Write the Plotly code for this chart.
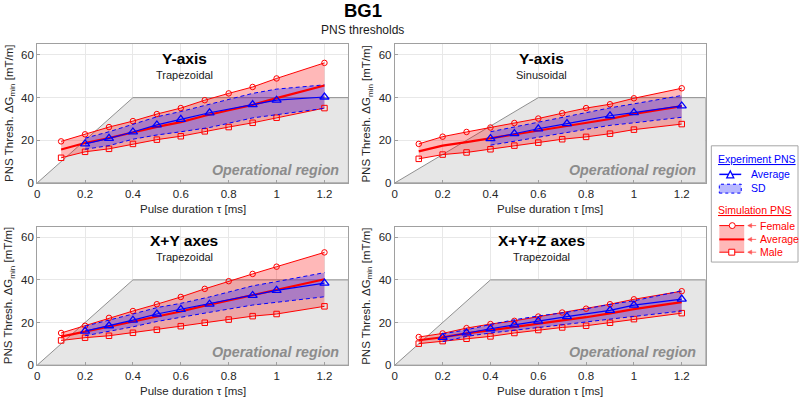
import plotly.graph_objects as go

# ---------------- data ----------------
x_sim = [0.1, 0.2, 0.3, 0.4, 0.5, 0.6, 0.7, 0.8, 0.9, 1.0, 1.2]
x_exp = [0.2, 0.3, 0.4, 0.5, 0.6, 0.72, 0.9, 1.0, 1.2]
x_exp_sin = [0.4, 0.5, 0.6, 0.72, 0.9, 1.0, 1.2]

# Panel 1: Y-axis, Trapezoidal
f1 = [19.5, 22.8, 26.2, 29.0, 32.3, 35.1, 38.8, 42.0, 45.0, 49.0, 56.3]
m1 = [11.8, 14.6, 16.0, 18.3, 20.3, 21.9, 24.2, 26.2, 28.2, 30.6, 35.1]
a1 = [15.7, 18.7, 21.1, 23.7, 26.3, 28.5, 31.5, 34.1, 36.6, 39.8, 45.7]
e1 = [18.3, 20.9, 23.9, 27.2, 29.8, 32.9, 36.7, 38.8, 40.3]
u1 = [21.0, 24.0, 27.5, 31.0, 33.5, 37.0, 42.0, 44.0, 46.0]
l1 = [15.8, 17.5, 20.5, 22.5, 24.0, 26.0, 30.5, 32.0, 35.0]

# Panel 2: Y-axis, Sinusoidal
f2 = [18.3, 21.7, 23.9, 26.0, 28.1, 30.2, 32.7, 35.1, 36.9, 39.7, 44.4]
m2 = [11.3, 13.3, 14.3, 15.8, 17.5, 18.9, 20.5, 21.6, 23.1, 25.0, 27.6]
a2 = [14.8, 17.5, 19.1, 20.9, 22.8, 24.6, 26.6, 28.4, 30.0, 32.4, 36.0]
e2 = [20.8, 23.1, 25.4, 27.8, 31.5, 33.0, 36.1]
u2 = [24.0, 26.3, 28.5, 31.3, 35.2, 37.1, 41.0]
l2 = [17.7, 19.5, 21.3, 23.6, 27.0, 28.2, 30.8]

# Panel 3: X+Y axes, Trapezoidal
f3 = [15.1, 18.5, 22.2, 25.4, 28.6, 32.0, 35.8, 39.4, 42.8, 46.2, 52.9]
m3 = [11.6, 12.9, 13.8, 15.2, 16.6, 18.3, 19.9, 21.4, 23.0, 24.0, 27.6]
a3 = [13.4, 15.7, 18.0, 20.3, 22.6, 25.2, 27.9, 30.4, 32.9, 35.1, 40.3]
e3 = [16.0, 18.5, 21.1, 24.0, 26.2, 28.6, 32.7, 35.1, 38.5]
u3 = [18.3, 21.0, 24.0, 27.0, 29.0, 32.0, 37.2, 39.2, 43.4]
l3 = [13.8, 15.8, 18.0, 20.5, 22.3, 24.8, 28.2, 29.5, 32.1]

# Panel 4: X+Y+Z axes, Trapezoidal
f4 = [13.2, 14.9, 17.4, 19.3, 20.8, 22.8, 24.7, 26.5, 28.6, 30.9, 34.7]
m4 = [10.1, 11.3, 12.4, 13.5, 15.1, 16.5, 17.7, 18.5, 19.9, 21.6, 24.4]
a4 = [11.7, 13.1, 14.9, 16.4, 18.0, 19.7, 21.2, 22.5, 24.3, 26.3, 29.6]
e4 = [13.0, 15.2, 17.1, 18.9, 20.7, 22.8, 25.7, 28.2, 31.0]
u4 = [14.7, 16.6, 19.1, 21.3, 23.1, 24.8, 28.5, 30.2, 34.9]
l4 = [11.0, 13.5, 15.1, 16.3, 17.7, 19.2, 21.6, 22.8, 25.4]

# Operational region outlines
op_x_trap = [0, 0.4, 1.3, 1.3, 0]
op_x_sin = [0, 0.6, 1.3, 1.3, 0]
op_y = [0, 40, 40, 0, 0]

x_ticks = [0, 0.2, 0.4, 0.6, 0.8, 1, 1.2]
x_tick_text = ["0", "0.2", "0.4", "0.6", "0.8", "1", "1.2"]
y_ticks = [0, 20, 40, 60]

titles = ["Y-axis", "Y-axis", "X+Y axes", "X+Y+Z axes"]
subtitles = ["Trapezoidal", "Sinusoidal", "Trapezoidal", "Trapezoidal"]

panels = [
    (f1, m1, a1, x_exp, e1, u1, l1, op_x_trap),
    (f2, m2, a2, x_exp_sin, e2, u2, l2, op_x_sin),
    (f3, m3, a3, x_exp, e3, u3, l3, op_x_trap),
    (f4, m4, a4, x_exp, e4, u4, l4, op_x_trap),
]

# ---------------- layout geometry ----------------
W, H = 800, 404
FONT = "Liberation Sans, Arial, Helvetica, sans-serif"
RED = "#ff0000"
BLUE = "#0000ff"
RED_FILL = "rgba(255,0,0,0.28)"
BLUE_FILL = "rgba(40,40,255,0.33)"
GRAY_FILL = "#e6e6e6"

def PX(x):
    return x / W

def PY(y):
    return 1 - y / H

col_px = [(34.3, 346.7), (393.3, 705.3)]
row_px = [(45.0, 185.7), (230.0, 370.7)]

fig = go.Figure()
layout_axes = {}
annotations = []
shapes = []

for i, (f, m, a, xe, e, u, l, opx) in enumerate(panels):
    r, c = divmod(i, 2)
    n = i + 1
    xa = "x" if n == 1 else f"x{n}"
    ya = "y" if n == 1 else f"y{n}"
    xkey = "xaxis" if n == 1 else f"xaxis{n}"
    ykey = "yaxis" if n == 1 else f"yaxis{n}"
    x0, x1 = col_px[c]
    y0, y1 = row_px[r]

    # operational region
    fig.add_trace(go.Scatter(x=opx, y=op_y, xaxis=xa, yaxis=ya, mode="lines",
                             fill="toself", fillcolor=GRAY_FILL,
                             line=dict(color="#8f8f8f", width=1),
                             hoverinfo="skip", showlegend=False))
    # simulation band
    fig.add_trace(go.Scatter(x=x_sim + x_sim[::-1], y=f + m[::-1], xaxis=xa, yaxis=ya,
                             mode="lines", fill="toself", fillcolor=RED_FILL,
                             line=dict(width=0), hoverinfo="skip", showlegend=False))
    # experiment SD band
    fig.add_trace(go.Scatter(x=xe + xe[::-1], y=u + l[::-1], xaxis=xa, yaxis=ya,
                             mode="lines", fill="toself", fillcolor=BLUE_FILL,
                             line=dict(width=0), hoverinfo="skip", showlegend=False))
    # female / male
    fig.add_trace(go.Scatter(x=x_sim, y=f, xaxis=xa, yaxis=ya, mode="lines+markers",
                             line=dict(color=RED, width=1),
                             marker=dict(symbol="circle-open", size=5.5, color=RED,
                                         line=dict(width=1)),
                             showlegend=False))
    fig.add_trace(go.Scatter(x=x_sim, y=m, xaxis=xa, yaxis=ya, mode="lines+markers",
                             line=dict(color=RED, width=1),
                             marker=dict(symbol="square-open", size=5.5, color=RED,
                                         line=dict(width=1)),
                             showlegend=False))
    # SD dashed edges
    for arr in (u, l):
        fig.add_trace(go.Scatter(x=xe, y=arr, xaxis=xa, yaxis=ya, mode="lines",
                                 line=dict(color=BLUE, width=1, dash="4px,3px"),
                                 showlegend=False))
    # simulation average
    fig.add_trace(go.Scatter(x=x_sim, y=a, xaxis=xa, yaxis=ya, mode="lines",
                             line=dict(color=RED, width=2.2), showlegend=False))
    # experiment average
    fig.add_trace(go.Scatter(x=xe, y=e, xaxis=xa, yaxis=ya, mode="lines+markers",
                             line=dict(color=BLUE, width=1.2),
                             marker=dict(symbol="triangle-up-open", size=8, color=BLUE,
                                         line=dict(width=1.3)),
                             showlegend=False))

    layout_axes[xkey] = dict(domain=[PX(x0), PX(x1)], range=[0, 1.3], anchor=ya,
                             tickvals=x_ticks, ticktext=x_tick_text,
                             showgrid=True, gridcolor="#e8e8e8", gridwidth=1,
                             zeroline=False, showline=True, mirror=True,
                             linecolor="#a0a0a0", linewidth=1,
                             ticks="inside", ticklen=3, tickcolor="#a0a0a0",
                             tickfont=dict(size=11.5, color="#262626", family=FONT))
    layout_axes[ykey] = dict(domain=[PY(y1), PY(y0)], range=[0, 65], anchor=xa,
                             tickvals=y_ticks,
                             showgrid=True, gridcolor="#e8e8e8", gridwidth=1,
                             zeroline=False, showline=True, mirror=True,
                             linecolor="#a0a0a0", linewidth=1,
                             ticks="inside", ticklen=3, tickcolor="#a0a0a0",
                             tickfont=dict(size=11.5, color="#262626", family=FONT))

    # panel texts
    annotations.append(dict(xref=f"{xa} domain", yref=f"{ya} domain", x=0.473, y=0.9,
                            text=f"<b>{titles[i]}</b>", showarrow=False,
                            font=dict(size=15.5, color="#000000", family=FONT),
                            xanchor="center", yanchor="middle"))
    annotations.append(dict(xref=f"{xa} domain", yref=f"{ya} domain", x=0.473, y=0.78,
                            text=subtitles[i], showarrow=False,
                            font=dict(size=11, color="#1a1a1a", family=FONT),
                            xanchor="center", yanchor="middle"))
    annotations.append(dict(xref=f"{xa} domain", yref=f"{ya} domain", x=0.975, y=0.095,
                            text="<b><i>Operational region</i></b>", showarrow=False,
                            font=dict(size=14.3, color="#8c8c8c", family=FONT),
                            xanchor="right", yanchor="middle"))
    # axis titles
    annotations.append(dict(xref="paper", yref="paper", x=PX((x0 + x1) / 2), y=PY(y1 + 26),
                            text="Pulse duration \u03c4 [ms]", showarrow=False,
                            font=dict(size=11.5, color="#262626", family=FONT),
                            xanchor="center", yanchor="middle"))
    annotations.append(dict(xref="paper", yref="paper", x=PX(x0 - 28), y=PY((y0 + y1) / 2),
                            text="PNS Thresh. \u0394G<sub>min</sub> [mT/m]", showarrow=False,
                            textangle=-90,
                            font=dict(size=11.5, color="#262626", family=FONT),
                            xanchor="center", yanchor="middle"))

# figure titles
annotations.append(dict(xref="paper", yref="paper", x=PX(361), y=PY(11), text="<b>BG1</b>",
                        showarrow=False, font=dict(size=18.5, color="#000000", family=FONT),
                        xanchor="center", yanchor="middle"))
annotations.append(dict(xref="paper", yref="paper", x=PX(361), y=PY(30), text="PNS thresholds",
                        showarrow=False, font=dict(size=12, color="#1a1a1a", family=FONT),
                        xanchor="center", yanchor="middle"))

# ---------------- custom legend ----------------
def rect(xa0, ya0, xa1, ya1, **kw):
    d = dict(type="rect", xref="paper", yref="paper",
             x0=PX(xa0), x1=PX(xa1), y0=PY(ya1), y1=PY(ya0))
    d.update(kw)
    return d

def hline(xa0, xa1, yy, color, width, dash="solid"):
    return dict(type="line", xref="paper", yref="paper", x0=PX(xa0), x1=PX(xa1),
                y0=PY(yy), y1=PY(yy), line=dict(color=color, width=width, dash=dash))

def path(pts, color, width, fill):
    p = "M " + " L ".join("{},{}".format(PX(a), PY(b)) for a, b in pts) + " Z"
    return dict(type="path", xref="paper", yref="paper", path=p,
                line=dict(color=color, width=width), fillcolor=fill)

shapes.append(rect(711, 148, 798, 266, line=dict(color="#a6a6a6", width=1),
                   fillcolor="white", layer="below"))
LF = 10.5
def ltext(x, y, t, color):
    annotations.append(dict(xref="paper", yref="paper", x=PX(x), y=PY(y), text=t,
                            showarrow=False, font=dict(size=LF, color=color, family=FONT),
                            xanchor="left", yanchor="middle"))

ltext(716, 161, "<u>Experiment PNS</u>", BLUE)
shapes.append(hline(719, 741, 177, BLUE, 1.5))
shapes.append(path([(726.5, 180.5), (733.5, 180.5), (730, 173.5)], BLUE, 1.3, "white"))
ltext(749, 177, "Average", BLUE)
shapes.append(rect(719, 187, 741, 196, fillcolor=BLUE_FILL,
                   line=dict(color=BLUE, width=1, dash="dot")))
ltext(749, 191, "SD", BLUE)

ltext(716, 213, "<u>Simulation PNS</u>", RED)
shapes.append(rect(719, 229, 744, 256, fillcolor=RED_FILL, line=dict(width=0)))
shapes.append(hline(719, 744, 229, RED, 1))
shapes.append(hline(719, 744, 243, RED, 2))
shapes.append(hline(719, 744, 256, RED, 1))
shapes.append(dict(type="circle", xref="paper", yref="paper", x0=PX(729), x1=PX(735),
                   y0=PY(232), y1=PY(226), line=dict(color=RED, width=1), fillcolor="white"))
shapes.append(rect(728.5, 253, 734.5, 259, line=dict(color=RED, width=1), fillcolor="white"))
ARROW = "rgba(255,70,70,0.8)"
for yy, t in [(229, "Female"), (243, "Average"), (256, "Male")]:
    shapes.append(hline(748, 756, yy, ARROW, 1))
    shapes.append(path([(747.5, yy), (751.5, yy - 2.2), (751.5, yy + 2.2)], ARROW, 0.5, ARROW))
    ltext(758, yy, t, RED)

fig.update_layout(width=W, height=H, margin=dict(l=0, r=0, t=0, b=0),
                  paper_bgcolor="white", plot_bgcolor="white",
                  annotations=annotations, shapes=shapes, showlegend=False,
                  font=dict(family=FONT), **layout_axes)

fig.write_html("out.html", config={"displayModeBar": False},
               post_script="document.body.style.margin='0';document.body.style.overflow='hidden';")
